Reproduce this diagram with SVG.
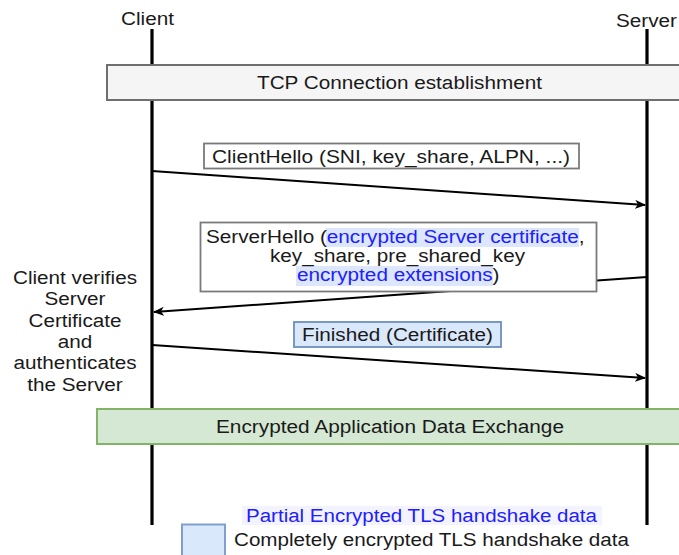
<svg xmlns="http://www.w3.org/2000/svg" width="679" height="555" viewBox="0 0 679 555">
<defs>
<style>
.t{font-family:"Liberation Sans",Arial,sans-serif;font-size:18px;fill:#1a1a1a}
.b{fill:#2020ff}
.life{stroke:#000;stroke-width:3.2;fill:none}
.msg{stroke:#000;stroke-width:2;fill:none;marker-end:url(#ah)}
.lbl{fill:#fff;stroke:#7a7a7a;stroke-width:1.8}
.hl{fill:#dce7fd}
</style>
<marker id="ah" markerWidth="12" markerHeight="10" refX="10" refY="4.5" orient="auto" markerUnits="userSpaceOnUse">
<path d="M0,0 L11,4.5 L0,9 L3,4.5 Z" fill="#000"/>
</marker>
</defs>
<rect width="679" height="555" fill="#fff"/>

<g id="client">
<text class="t" x="121" y="25" textLength="53" lengthAdjust="spacingAndGlyphs">Client</text>
<line class="life" x1="152" y1="29" x2="152" y2="525"/>
</g>
<g id="server">
<text class="t" x="616" y="27" textLength="61" lengthAdjust="spacingAndGlyphs">Server</text>
<line class="life" x1="647" y1="29" x2="647" y2="525"/>
</g>

<g id="tcp">
<rect x="107" y="65" width="590" height="35" fill="#f5f5f5" stroke="#6f6f6f" stroke-width="2"/>
<text class="t" x="257" y="89" textLength="285" lengthAdjust="spacingAndGlyphs">TCP Connection establishment</text>
</g>

<g id="connectors">
<line class="msg" x1="152" y1="171" x2="645" y2="205"/>
<line class="msg" x1="647" y1="277" x2="154" y2="312"/>
<line class="msg" x1="152" y1="345" x2="645" y2="378"/>
</g>

<g id="clienthello">
<rect class="lbl" x="204" y="143.5" width="375" height="25"/>
<text class="t" x="212" y="163" textLength="358" lengthAdjust="spacingAndGlyphs">ClientHello (SNI, key_share, ALPN, ...)</text>
</g>

<g id="serverhello">
<rect class="lbl" x="200.5" y="222.5" width="396" height="69"/>
<rect class="hl" x="326" y="228" width="253" height="19"/>
<rect class="hl" x="296" y="266" width="197" height="20"/>
<text class="t" x="206" y="242.5" textLength="120.8" lengthAdjust="spacingAndGlyphs">ServerHello (</text>
<text class="t b" x="326.8" y="242.5" textLength="251.9" lengthAdjust="spacingAndGlyphs">encrypted Server certificate</text>
<text class="t" x="578.7" y="242.5" textLength="5.8" lengthAdjust="spacingAndGlyphs">,</text>
<text class="t" x="270" y="262" textLength="255" lengthAdjust="spacingAndGlyphs">key_share, pre_shared_key</text>
<text class="t b" x="297" y="281" textLength="195.6" lengthAdjust="spacingAndGlyphs">encrypted extensions</text>
<text class="t" x="492.6" y="281" textLength="6.9" lengthAdjust="spacingAndGlyphs">)</text>
</g>

<g id="verify-note">
<text class="t" text-anchor="middle" x="75" y="284" textLength="124" lengthAdjust="spacingAndGlyphs">Client verifies</text>
<text class="t" text-anchor="middle" x="75" y="305.3" textLength="61" lengthAdjust="spacingAndGlyphs">Server</text>
<text class="t" text-anchor="middle" x="75" y="326.6" textLength="93" lengthAdjust="spacingAndGlyphs">Certificate</text>
<text class="t" text-anchor="middle" x="75" y="347.9" textLength="34.5" lengthAdjust="spacingAndGlyphs">and</text>
<text class="t" text-anchor="middle" x="75" y="369.2" textLength="123" lengthAdjust="spacingAndGlyphs">authenticates</text>
<text class="t" text-anchor="middle" x="75" y="390.5" textLength="95.5" lengthAdjust="spacingAndGlyphs">the Server</text>
</g>

<g id="finished">
<rect x="294" y="322" width="207" height="25" fill="#dae8fc" stroke="#6c8ebf" stroke-width="1.8"/>
<text class="t" x="302" y="341" textLength="191" lengthAdjust="spacingAndGlyphs">Finished (Certificate)</text>
</g>

<g id="appdata">
<rect x="97" y="409" width="600" height="35" fill="#d5e8d4" stroke="#82b366" stroke-width="2"/>
<text class="t" x="216" y="433" textLength="348" lengthAdjust="spacingAndGlyphs">Encrypted Application Data Exchange</text>
</g>

<g id="legend">
<rect x="242" y="506" width="360" height="19" fill="#f3f3ff"/>
<text class="t b" x="246" y="521.5" textLength="351" lengthAdjust="spacingAndGlyphs">Partial Encrypted TLS handshake data</text>
<rect x="182" y="524.5" width="43" height="36" fill="#dae8fc" stroke="#7f9fcf" stroke-width="2"/>
<text class="t" x="234" y="545.5" textLength="395" lengthAdjust="spacingAndGlyphs">Completely encrypted TLS handshake data</text>
</g>
</svg>
